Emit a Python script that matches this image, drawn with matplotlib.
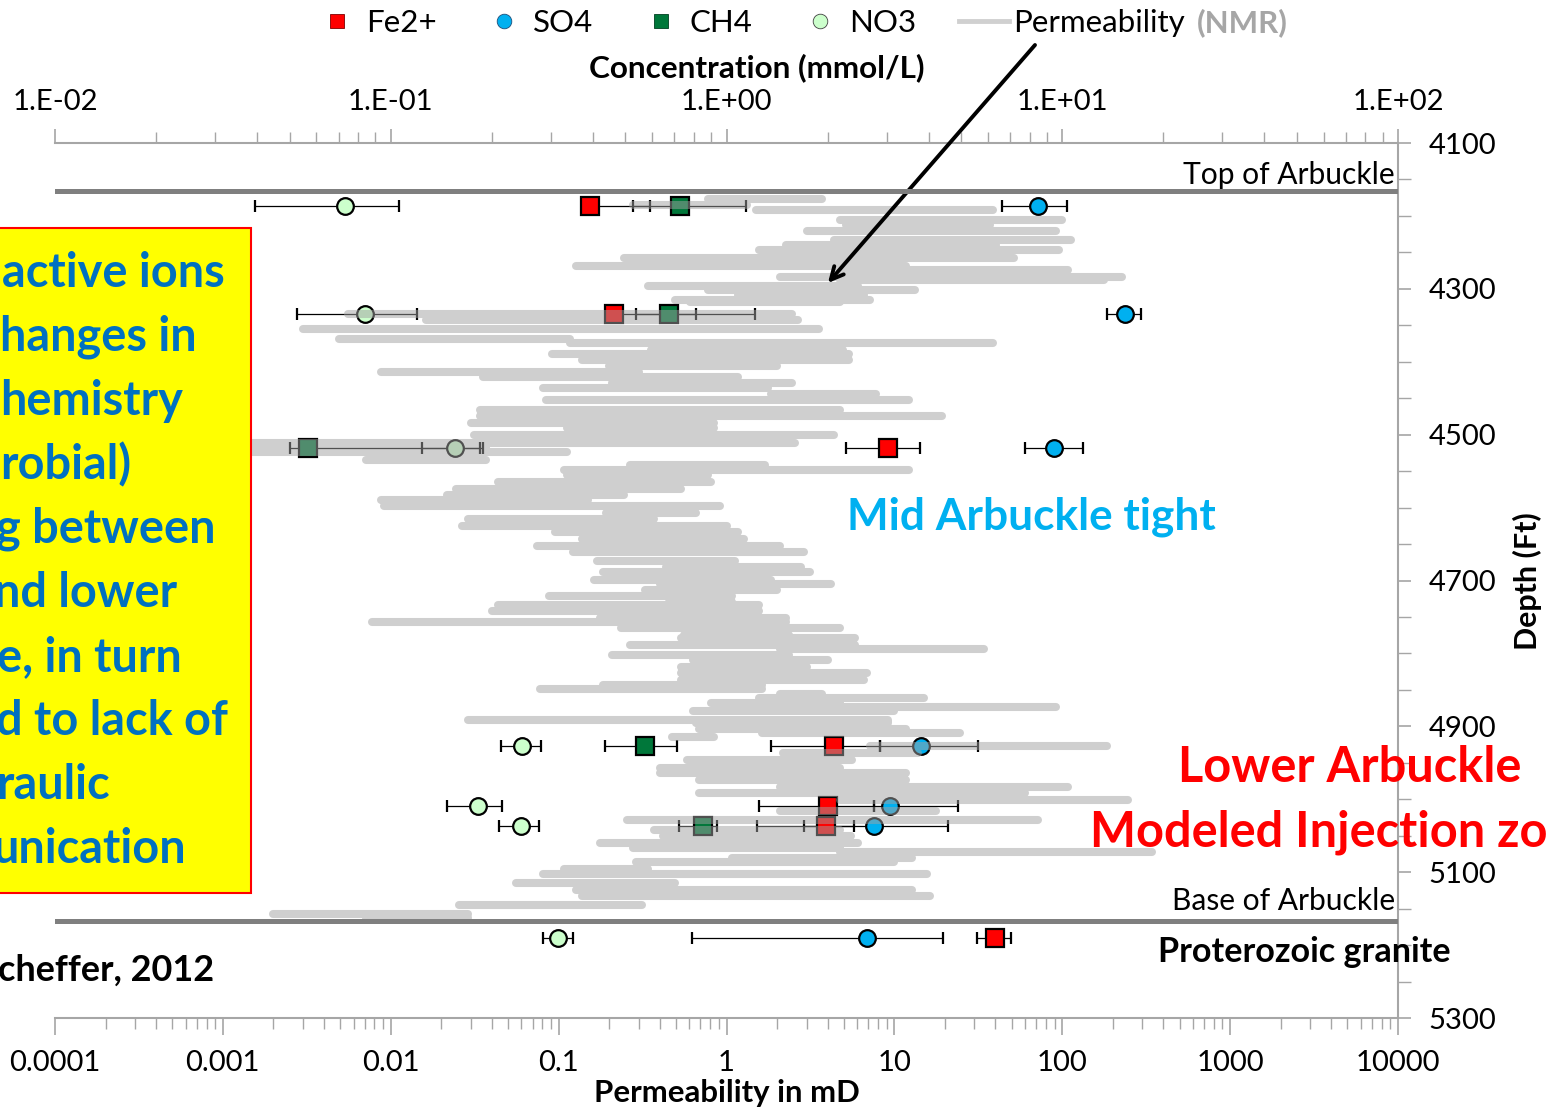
import numpy as np
import matplotlib
matplotlib.use('Agg')
import matplotlib.pyplot as plt
from matplotlib.lines import Line2D
from matplotlib.patches import Rectangle
from matplotlib.ticker import FixedLocator, FixedFormatter, LogLocator, NullFormatter, MultipleLocator

plt.rcParams['font.family'] = ['Lato', 'DejaVu Sans']

# ---------------- data ----------------
# NMR permeability log (mD): per depth step, low and high excursion of the trace
perm_depth = [4177, 4185, 4192, 4206, 4212, 4221, 4233, 4240, 4247, 4258,
              4269, 4274, 4284, 4288, 4296, 4302, 4308, 4315, 4318, 4335,
              4343, 4355, 4369, 4374, 4384, 4389, 4398, 4406, 4414, 4421,
              4429, 4436, 4444, 4453, 4466, 4474, 4484, 4491, 4501, 4512,
              4518, 4524, 4535, 4542, 4549, 4555, 4565, 4575, 4583, 4590,
              4598, 4608, 4616, 4625, 4634, 4643, 4653, 4661, 4673, 4682,
              4688, 4699, 4705, 4713, 4721, 4730, 4734, 4742, 4752, 4757,
              4765, 4775, 4779, 4789, 4794, 4802, 4809, 4819, 4827, 4837,
              4843, 4849, 4856, 4861, 4868, 4874, 4879, 4891, 4896, 4904,
              4909, 4915, 4927, 4937, 4946, 4957, 4964, 4974, 4983, 4992,
              5001, 5016, 5029, 5042, 5050, 5060, 5067, 5073, 5080, 5086,
              5095, 5103, 5115, 5125, 5133, 5145, 5158, 5163]
perm_low = [0.776, 0.277, 1.5, 4.74, 5.15, 3.02, 4.37, 2.26, 1.56, 0.245,
            0.127, 4.74, 2.08, 4.74, 0.341, 0.776, 1.17, 0.493, 0.606, 0.00556,
            0.0162, 0.0030, 0.00492, 0.117, 0.355, 0.0914, 0.138, 0.2, 0.00875, 0.0355,
            0.208, 0.0807, 1.84, 0.0841, 0.034, 0.034, 0.030, 0.112, 0.0313, 0.00149,
            0.00149, 0.00149, 0.00713, 0.266, 0.108, 0.112, 0.0435, 0.0245, 0.0216, 0.00875,
            0.00912, 0.191, 0.0289, 0.0266, 0.0953, 0.138, 0.0743, 0.122, 0.169, 0.436,
            0.184, 0.163, 0.402, 0.327, 0.0877, 0.454, 0.0435, 0.0401, 0.176, 0.00773,
            0.235, 0.558, 0.536, 0.266, 2.08, 0.208, 0.632, 0.536, 0.536, 0.536,
            0.184, 0.0775, 2.08, 1.56, 0.809, 1.44, 0.632, 0.0289, 0.658, 0.686,
            1.63, 0.473, 7.16, 2.17, 0.582, 0.402, 0.402, 0.686, 2.08, 0.686,
            4.74, 2.08, 0.255, 0.370, 0.42, 0.176, 0.277, 4.74, 1.08, 0.289,
            0.108, 0.0807, 0.0557, 0.127, 0.138, 0.0255, 0.00199, 0.00713]
perm_high = [3.7, 1.32, 38.7, 100, 37.1, 91.8, 113, 40.3, 95.7, 51.6,
             11.7, 108, 227, 177, 6.07, 13.3, 6.59, 7.16, 4.74, 2.45,
             2.67, 3.56, 0.117, 38.7, 4.94, 5.37, 5.37, 2.0, 0.301, 1.17,
             2.45, 1.77, 7.78, 12.2, 4.74, 19.2, 0.842, 0.842, 4.37, 2.56,
             0.037, 0.112, 0.037, 1.70, 12.2, 0.776, 0.809, 0.536, 0.245, 0.150,
             0.915, 0.658, 0.370, 1.0, 1.17, 1.27, 2.08, 2.90, 1.12, 2.78,
             3.14, 1.84, 4.19, 2.0, 1.08, 1.08, 1.56, 1.56, 2.26, 2.26,
             4.74, 2.36, 5.82, 5.82, 34.2, 2.36, 4.02, 3.02, 6.87, 6.59,
             1.63, 1.63, 3.7, 15.0, 4.74, 91.8, 9.95, 9.16, 9.16, 11.7,
             24.6, 0.842, 185, 13.8, 5.6, 4.74, 11.7, 11.7, 108, 60,
             247, 17.7, 71.7, 4.74, 5.5, 6.07, 4.74, 343, 12.7, 9.95,
             0.341, 15.6, 0.493, 12.7, 16.3, 0.314, 0.0289, 0.0289]

# groundwater samples (mmol/L) with error ranges
sample_depth = [4186, 4335, 4518, 4927, 5009, 5036, 5190]
fe2 = [0.392, 0.462, 3.03, 2.09, 2.0, 1.98, 6.31]
fe2_lo = [0.37, 0.44, 2.27, 1.36, 1.25, 1.23, 5.57]
fe2_hi = [0.592, 0.811, 3.77, 2.86, 2.75, 2.4, 7.03]
so4 = [8.47, 15.4, 9.46, 3.80, 3.07, 2.75, 2.62]
so4_lo = [6.62, 13.6, 7.74, 2.86, 2.75, 1.70, 0.789]
so4_hi = [10.3, 17.2, 11.5, 5.61, 4.9, 4.57, 4.42]
ch4 = [0.727, 0.674, 0.0567, 0.572, None, 0.851, None]
ch4_lo = [0.527, 0.538, 0.05, 0.435, None, 0.722, None]
ch4_hi = [1.14, 1.216, 0.185, 0.712, None, 0.94, None]
no3 = [0.0731, 0.0838, 0.155, 0.246, 0.182, 0.244, 0.315]
no3_lo = [0.0394, 0.0525, 0.124, 0.213, 0.147, 0.21, 0.284]
no3_hi = [0.106, 0.1197, 0.188, 0.280, 0.2145, 0.276, 0.349]

top_arbuckle = 4166
base_arbuckle = 5167

perm_ticks = [1e-4, 1e-3, 1e-2, 1e-1, 1, 10, 100, 1000, 10000]
perm_ticklabels = ['0.0001', '0.001', '0.01', '0.1', '1', '10', '100', '1000', '10000']
conc_ticks = [1e-2, 1e-1, 1, 10, 100]
conc_ticklabels = ['1.E-02', '1.E-01', '1.E+00', '1.E+01', '1.E+02']
depth_ticks = [4100, 4300, 4500, 4700, 4900, 5100, 5300]

box_lines = ['active ions', 'hanges in', 'hemistry', 'robial)', 'g between',
             'nd lower', 'e, in turn', 'd to lack of', 'raulic', 'unication']

# ---------------- figure ----------------
W, H = 1546, 1109
fig = plt.figure(figsize=(W / 100, H / 100), dpi=100)
fig.patch.set_facecolor('white')
R = fig.canvas.get_renderer()


def fx(px):
    return px / W


def fy(py):
    return 1 - py / H


def fit_size(txt, target, weight='normal', size0=20):
    t = fig.text(0, 0, txt, fontsize=size0, fontweight=weight)
    w = t.get_window_extent(R).width
    t.remove()
    return size0 * target / w


tick_fs = fit_size('4100', 68)
GREY = '#A6A6A6'

ax = fig.add_axes([fx(55), fy(1018), fx(1398) - fx(55), fy(143) - fy(1018)])
ax2 = ax.twiny()
ax.set_zorder(2)
ax2.set_zorder(1)
ax.patch.set_visible(False)

# permeability axis (bottom) & depth (right)
ax.set_xscale('log')
ax.set_xlim(1e-4, 1e4)
ax.set_ylim(5300, 4100)
ax.xaxis.set_major_locator(FixedLocator(perm_ticks))
ax.xaxis.set_major_formatter(FixedFormatter(perm_ticklabels))
ax.xaxis.set_minor_locator(LogLocator(base=10, subs=np.arange(2, 10), numticks=100))
ax.xaxis.set_minor_formatter(NullFormatter())
ax.yaxis.tick_right()
ax.yaxis.set_label_position('right')
ax.yaxis.set_major_locator(FixedLocator(depth_ticks))
ax.yaxis.set_minor_locator(MultipleLocator(50))
ax.tick_params(axis='x', which='major', direction='out', length=12, width=1.2, color=GREY,
               labelsize=tick_fs, pad=11)
ax.tick_params(axis='x', which='minor', direction='out', length=8, width=1.0, color=GREY)
ax.tick_params(axis='y', which='major', direction='out', length=9, width=1.2, color=GREY,
               labelsize=tick_fs, pad=13)
ax.tick_params(axis='y', which='minor', direction='out', length=9, width=1.0, color=GREY)
for s in ['left', 'top']:
    ax.spines[s].set_visible(False)
for s in ['right', 'bottom']:
    ax.spines[s].set_color(GREY)
    ax.spines[s].set_linewidth(1.5)

# concentration axis (top)
ax2.set_xscale('log')
ax2.set_xlim(1e-2, 1e2)
ax2.xaxis.set_major_locator(FixedLocator(conc_ticks))
ax2.xaxis.set_major_formatter(FixedFormatter(conc_ticklabels))
ax2.xaxis.set_minor_locator(LogLocator(base=10, subs=np.arange(2, 10), numticks=100))
ax2.xaxis.set_minor_formatter(NullFormatter())
ax2.tick_params(axis='x', which='major', direction='out', length=10, width=1.2, color=GREY,
                labelsize=tick_fs, pad=10)
ax2.tick_params(axis='x', which='minor', direction='out', length=8, width=1.0, color=GREY)
for s in ['left', 'right', 'bottom']:
    ax2.spines[s].set_visible(False)
ax2.spines['top'].set_color(GREY)
ax2.spines['top'].set_linewidth(1.5)

# axis labels
lab_fs = fit_size('Permeability in mD', 266, 'bold')
ax.set_xlabel('Permeability in mD', fontsize=lab_fs, fontweight='bold', va='center')
ax.xaxis.set_label_coords((727 - 55) / 1343, (1018 - 1093) / 875)
ax2.set_xlabel('Concentration (mmol/L)', fontsize=fit_size('Concentration (mmol/L)', 335, 'bold'),
               fontweight='bold', va='center')
ax2.xaxis.set_label_coords((757 - 55) / 1343, (1018 - 68) / 875)
ax.set_ylabel('Depth (Ft)', fontsize=fit_size('Depth (Ft)', 138, 'bold'), fontweight='bold',
              va='center', rotation=90)
ax.yaxis.set_label_coords((1527 - 55) / 1343, (1018 - 581) / 875)

# formation tops
ax.axhline(top_arbuckle, color='#7F7F7F', lw=3.6, zorder=4)
ax.axhline(base_arbuckle, color='#7F7F7F', lw=3.6, zorder=4)

# permeability trace: horizontal excursions, drawn over the samples, semi-transparent
xs, ys = [], []
for d, lo, hi in zip(perm_depth, perm_low, perm_high):
    xs.extend([lo, hi, np.nan])
    ys.extend([d, d, np.nan])
ax.plot(xs, ys, color='#A1A1A1', alpha=0.5, lw=5.8, solid_capstyle='round',
        solid_joinstyle='round', zorder=3)

# samples with error bars on concentration axis
series = [
    (fe2, fe2_lo, fe2_hi, 's', '#FF0000', 13),
    (so4, so4_lo, so4_hi, 'o', '#00B0F0', 12),
    (ch4, ch4_lo, ch4_hi, 's', '#00773A', 13),
    (no3, no3_lo, no3_hi, 'o', '#CCFFCC', 12),
]
for vals, lo, hi, mk, col, ms in series:
    d = [sd for sd, v in zip(sample_depth, vals) if v is not None]
    v = np.array([x for x in vals if x is not None])
    l = np.array([x for x in lo if x is not None])
    h = np.array([x for x in hi if x is not None])
    ax2.errorbar(v, d, xerr=[v - l, h - v], fmt=mk, ms=ms, mfc=col, mec='black', mew=1.6,
                 ecolor='black', elinewidth=0.9, capsize=4.5, capthick=0.9, zorder=3)

# arrow to trace
ax.annotate('', xy=(4.02, 4292), xycoords='data', xytext=(fx(1035), fy(45)),
            textcoords='figure fraction', annotation_clip=False,
            arrowprops=dict(arrowstyle='->,head_length=0.9,head_width=0.45', color='black',
                            lw=2.8, shrinkA=0, shrinkB=0))

# in-plot annotations
fs_top = fit_size('Top of Arbuckle', 212)
fig.text(fx(1395), fy(175), 'Top of Arbuckle', fontsize=fs_top, ha='right', va='center')
fig.text(fx(1395), fy(901), 'Base of Arbuckle', fontsize=fs_top, ha='right', va='center')
fig.text(fx(1158), fy(952), 'Proterozoic granite', fontsize=fit_size('Proterozoic granite', 292, 'bold'),
         fontweight='bold', ha='left', va='center')
fig.text(fx(1031), fy(517), 'Mid Arbuckle tight', color='#00B0F0',
         fontsize=fit_size('Mid Arbuckle tight', 369, 'bold'), fontweight='bold', ha='center', va='center')
fs_low = fit_size('Lower Arbuckle', 343, 'bold')
fig.text(fx(1178), fy(768), 'Lower Arbuckle', color='#FF0000', fontsize=fs_low, fontweight='bold',
         ha='left', va='center')
fig.text(fx(1090), fy(832), 'Modeled Injection zone', color='#FF0000', fontsize=fs_low,
         fontweight='bold', ha='left', va='center')
fig.text(fx(-2), fy(970), 'cheffer, 2012', fontsize=fit_size('cheffer, 2012', 216, 'bold'),
         fontweight='bold', ha='left', va='center')

# yellow call-out box (cut by left edge)
fig.add_artist(Rectangle((fx(-20), fy(893)), fx(271), fy(228) - fy(893), transform=fig.transFigure,
                         facecolor='#FFFF00', edgecolor='#FF0000', lw=1.5, zorder=5))
box_fs = fit_size('active ions', 223, 'bold')
box_x = [2, 0, 0, 0, -4, -6, -3, -4, -4, -8]
for i, (txt, bx) in enumerate(zip(box_lines, box_x)):
    fig.text(fx(bx), fy(273 + 64 * i), txt, color='#0070C0', fontsize=box_fs, fontweight='bold',
             ha='left', va='center', zorder=6)

# legend
leg_handles = [
    Line2D([], [], ls='none', marker='s', ms=10.5, mfc='#FF0000', mec='#7F0000', mew=0.6),
    Line2D([], [], ls='none', marker='o', ms=10.5, mfc='#00B0F0', mec='#1F4E79', mew=0.6),
    Line2D([], [], ls='none', marker='s', ms=10.5, mfc='#00773A', mec='#004020', mew=0.6),
    Line2D([], [], ls='none', marker='o', ms=10.5, mfc='#CCFFCC', mec='#404040', mew=0.6),
    Line2D([], [], color='#D0D0D0', lw=3.5),
]
leg_labels = ['Fe2+', 'SO4', 'CH4', 'NO3', 'Permeability']
leg_fs = fit_size('Permeability', 172)
leg = fig.legend(leg_handles, leg_labels, loc='center left', bbox_to_anchor=(fx(312), fy(23)),
                 bbox_transform=fig.transFigure, ncol=5, frameon=False, fontsize=leg_fs,
                 handlelength=1.6, handletextpad=0.12, columnspacing=1.37, borderpad=0,
                 borderaxespad=0)
fig.canvas.draw()
bb = leg.get_texts()[-1].get_window_extent(R)
fig.text((bb.x1 + 12) / W, (bb.y0 + bb.y1) / 2 / H, '(NMR)', color=GREY, fontweight='bold',
         fontsize=leg_fs, ha='left', va='center')

fig.savefig('out.png', dpi=100)
